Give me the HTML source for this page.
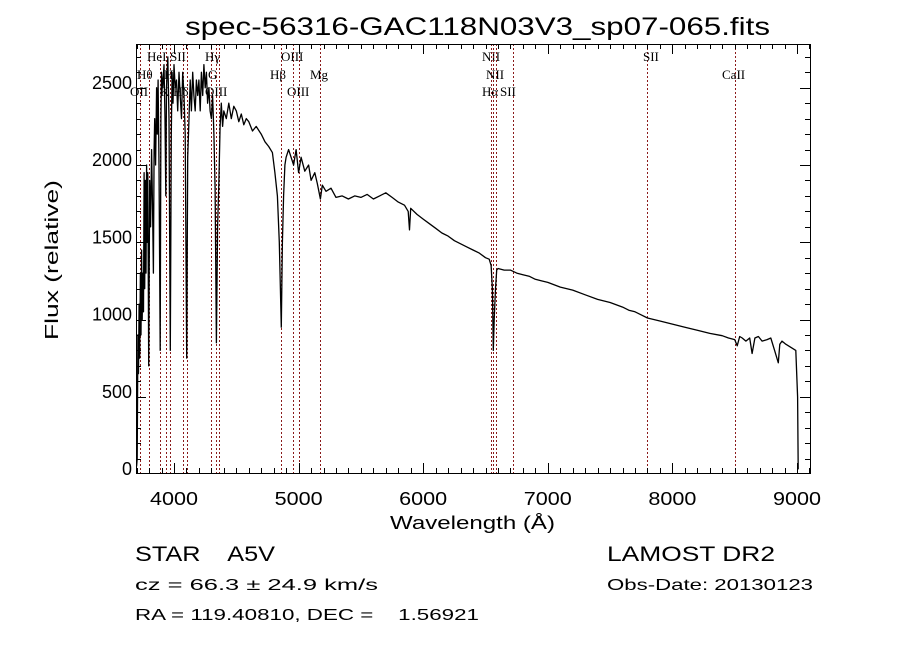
<!DOCTYPE html>
<html><head><meta charset="utf-8"><style>
body{margin:0;background:#fff;width:900px;height:649px;overflow:hidden}
svg{display:block}
text{font-family:"Liberation Sans",sans-serif;fill:#000;white-space:pre}
.ll{font-family:"Liberation Serif",serif;font-size:13px}
</style></head><body>
<svg id="chart" width="900" height="649" viewBox="0 0 900 649" xmlns="http://www.w3.org/2000/svg" xml:space="preserve">
<text x="185" y="35" font-size="25" textLength="585" lengthAdjust="spacingAndGlyphs">spec-56316-GAC118N03V3_sp07-065.fits</text>
<g id="lines"></g>
<g id="ticks"></g>
<path id="spec" fill="none" stroke="#000" stroke-width="1.3" stroke-linejoin="round"/>
<rect x="136.5" y="44.5" width="674" height="429" fill="none" stroke="#000" stroke-width="1"/>
<text x="390" y="529" font-size="18" textLength="165" lengthAdjust="spacingAndGlyphs">Wavelength (Å)</text>
<text transform="translate(58,340) rotate(-90)" font-size="18" textLength="160" lengthAdjust="spacingAndGlyphs">Flux (relative)</text>
<text x="135" y="561" font-size="21" textLength="140" lengthAdjust="spacingAndGlyphs">STAR    A5V</text>
<text x="135" y="590" font-size="16" textLength="243" lengthAdjust="spacingAndGlyphs">cz = 66.3 ± 24.9 km/s</text>
<text x="135" y="620" font-size="16" textLength="344" lengthAdjust="spacingAndGlyphs">RA = 119.40810, DEC =    1.56921</text>
<text x="607" y="561" font-size="21" textLength="168" lengthAdjust="spacingAndGlyphs">LAMOST DR2</text>
<text x="607" y="590" font-size="16" textLength="206" lengthAdjust="spacingAndGlyphs">Obs-Date: 20130123</text>
</svg>
<script>
const lineWaves=[3727,3798,3889,3934,3969,4072,4102,4300,4340,4363,4861,4959,5007,5175,6548,6563,6583,6717,7800,8500];
const lineLabels=[["OII",3],["Hθ",2],["HeI",1],["K",3],["H",2],["SII",1],["Hδ",3],["G",2],["Hγ",1],["OIII",3],["Hβ",2],["OIII",1],["OIII",3],["Mg",2],["NII",1],["Hα",3],["NII",2],["SII",3],["SII",1],["CaII",2]];
const labelX=[130,137,147,160,164,170,173,208,205,205,270,281,287,310,482,482,486,500,643,722];
const waves=[3700,3705,3710,3715,3720,3725,3730,3735,3740,3745,3750,3755,3760,3765,3770,3775,3780,3785,3790,3797,3805,3812,3820,3828,3835,3840,3845,3852,3860,3866,3872,3880,3889,3895,3900,3910,3920,3928,3934,3940,3950,3960,3970,3978,3985,3992,4000,4010,4020,4030,4040,4050,4060,4070,4080,4090,4102,4110,4120,4130,4140,4150,4160,4170,4180,4190,4200,4210,4220,4230,4240,4250,4260,4270,4280,4290,4300,4310,4320,4330,4340,4350,4360,4370,4380,4390,4400,4420,4440,4460,4480,4500,4520,4540,4560,4580,4600,4630,4660,4700,4730,4760,4790,4810,4830,4845,4861,4870,4880,4890,4900,4920,4940,4960,4980,5000,5020,5050,5080,5100,5130,5150,5175,5190,5220,5260,5300,5350,5400,5450,5500,5550,5600,5650,5700,5750,5800,5850,5880,5890,5900,5950,6000,6050,6100,6150,6200,6250,6300,6350,6400,6450,6500,6530,6545,6555,6563,6570,6580,6590,6600,6650,6700,6750,6800,6850,6900,6950,7000,7100,7200,7300,7400,7500,7600,7650,7700,7750,7800,7850,7900,8000,8100,8200,8300,8400,8450,8500,8520,8540,8560,8590,8620,8640,8662,8690,8720,8760,8790,8820,8850,8862,8880,8910,8950,8990,9005,9010,9015];
const flux=[50,100,900,650,1100,750,1300,900,1450,1000,1300,1050,1950,1200,1900,1300,2000,1500,1950,700,1900,1600,2100,1700,1300,2100,2300,2000,2500,2200,2550,2000,800,2300,2600,2500,2650,2300,1800,2500,2700,2300,800,2200,2600,2400,2650,2500,2550,2350,2600,2450,2300,2600,2450,2200,750,2050,2300,2550,2350,2600,2450,2350,2550,2450,2550,2350,2600,2450,2650,2500,2600,2400,2500,2350,2300,2450,2200,1850,850,1600,1900,2250,2400,2250,2350,2300,2400,2300,2380,2350,2280,2330,2260,2300,2280,2220,2250,2200,2150,2120,2080,1950,1800,1500,950,1500,1800,2000,2050,2100,2050,2000,2100,1950,2050,1960,2000,1900,1950,1880,1780,1870,1830,1850,1790,1800,1780,1800,1790,1810,1780,1800,1820,1790,1760,1740,1700,1580,1720,1680,1650,1620,1590,1560,1540,1510,1490,1470,1450,1430,1400,1390,1350,1200,800,1000,1200,1320,1330,1320,1320,1300,1290,1280,1260,1250,1240,1210,1190,1160,1130,1110,1080,1060,1050,1030,1010,1000,990,970,950,930,910,895,880,870,830,890,880,860,880,780,880,890,860,870,880,800,720,840,860,840,820,800,500,30];
const NS="http://www.w3.org/2000/svg";
const X0=136,X1=810,Y0=44,Y1=473;
function xs(l){return 174+(l-4000)*0.1246;}
function ys(v){return 474-v*0.1545;}
let d="";
for(let i=0;i<waves.length;i++){d+=(i?"L":"M")+xs(waves[i]).toFixed(1)+","+Math.min(Y1,Math.max(Y0+2,ys(flux[i]))).toFixed(1);}
document.getElementById("spec").setAttribute("d",d);
const lg=document.getElementById("lines");
const rowY={1:61,2:79,3:96};
for(let i=0;i<lineWaves.length;i++){
 const x=Math.round(xs(lineWaves[i]))+0.5;
 const ln=document.createElementNS(NS,"line");
 ln.setAttribute("x1",x);ln.setAttribute("x2",x);ln.setAttribute("y1",Y0);ln.setAttribute("y2",Y1);
 ln.setAttribute("stroke","#8b1a1a");ln.setAttribute("stroke-width","1");ln.setAttribute("stroke-dasharray","2,2");
 
 
 lg.appendChild(ln);
 const t=document.createElementNS(NS,"text");
 t.setAttribute("x",labelX[i]);t.setAttribute("y",rowY[lineLabels[i][1]]);t.setAttribute("class","ll");
 t.textContent=lineLabels[i][0];
 
 
 lg.appendChild(t);
}
const tg=document.getElementById("ticks");
function seg(x1,y1,x2,y2){const l=document.createElementNS(NS,"line");l.setAttribute("x1",x1);l.setAttribute("y1",y1);l.setAttribute("x2",x2);l.setAttribute("y2",y2);l.setAttribute("stroke","#000");


tg.appendChild(l);}
function lab(x,y,s,name){const t=document.createElementNS(NS,"text");t.setAttribute("x",x);t.setAttribute("y",y);t.setAttribute("font-size","18");t.setAttribute("textLength","48");t.setAttribute("lengthAdjust","spacingAndGlyphs");t.textContent=s;


tg.appendChild(t);}
const xTicks=[4000,5000,6000,7000,8000,9000];
const yTicks=[0,500,1000,1500,2000,2500];
for(let w=3700;w<=9100;w+=100){const x=Math.round(xs(w))+0.5;if(x<X0||x>X1)continue;const L=(w%1000===0)?10:5;seg(x,Y1,x,Y1-L);seg(x,Y0,x,Y0+L);}
for(let v=0;v<=2700;v+=100){const y=Math.round(ys(v))+0.5;if(y<Y0||y>Y1)continue;const L=(v%500===0)?10:5;seg(X0,y,X0+L,y);seg(X1,y,X1-L,y);}
xTicks.forEach(w=>lab(xs(w)-24,505,String(w),'x-tick-label'));
yTicks.forEach(v=>{const s=String(v);const t=document.createElementNS(NS,"text");t.setAttribute("x",132);t.setAttribute("y",ys(v)+1);t.setAttribute("font-size","18");t.setAttribute("text-anchor","end");t.textContent=s;


tg.appendChild(t);});
</script>
</body></html>
